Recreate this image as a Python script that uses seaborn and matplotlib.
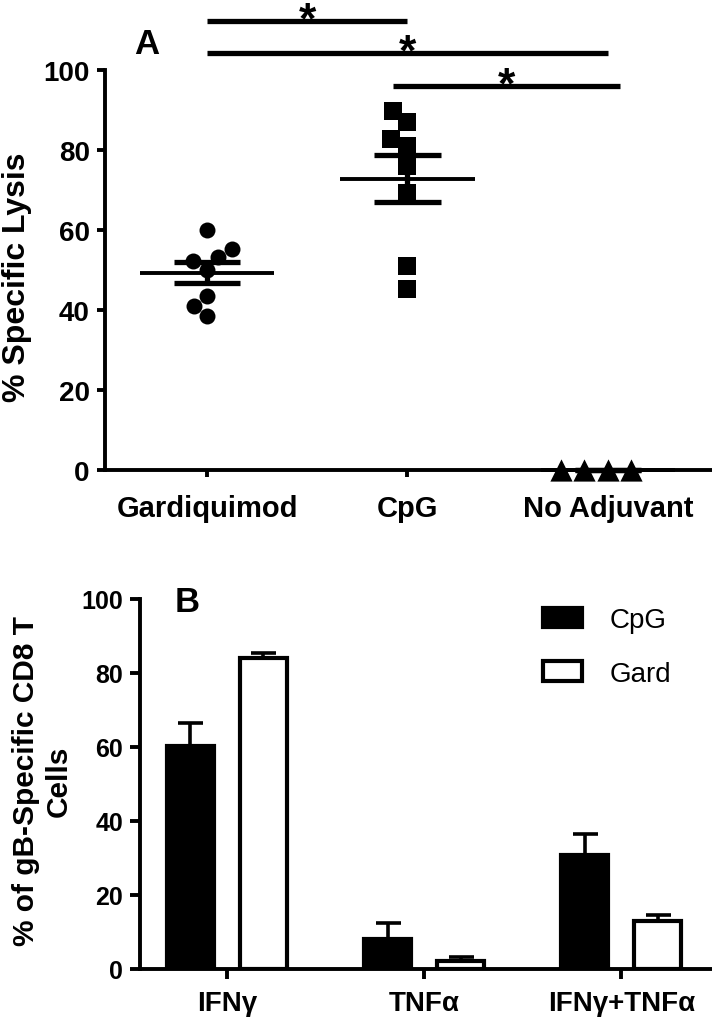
import numpy as np
import pandas as pd
import matplotlib
matplotlib.use("Agg")
import matplotlib.pyplot as plt
from matplotlib.patches import Patch
import seaborn as sns

# === Data ===
# panel A: % specific lysis, one value per mouse
groups = ["Gardiquimod", "CpG", "No Adjuvant"]
gard_lysis = [60.0, 55.3, 52.3, 53.2, 50.1, 43.6, 41.1, 38.6]
cpg_lysis = [89.8, 87.1, 82.8, 80.9, 76.1, 69.3, 51.1, 45.3]
noadj_lysis = [0.0, 0.0, 0.0, 0.0]

# significance brackets: from group, to group, height
sig_from = [0.0, 0.0, 0.93]
sig_to = [1.0, 2.0, 2.06]
sig_y = [112.3, 104.3, 96.0]
sig_label = ["*", "*", "*"]

# panel B: % of gB-specific CD8 T cells (mean, SEM)
cytokines = ["IFNγ", "TNFα", "IFNγ+TNFα"]
cpg_pct = [60.3, 8.1, 30.8]
cpg_sem = [6.2, 4.3, 5.7]
gard_pct = [84.0, 2.2, 13.0]
gard_sem = [1.4, 1.1, 1.6]

# === Style ===
sns.set_style("ticks")
plt.rcParams["font.family"] = ["Liberation Sans", "DejaVu Sans"]
plt.rcParams["axes.linewidth"] = 2.8
plt.rcParams["xtick.major.width"] = 2.8
plt.rcParams["ytick.major.width"] = 2.8
for key in ["text.color", "axes.labelcolor", "xtick.color", "ytick.color",
            "axes.edgecolor"]:
    plt.rcParams[key] = "black"

W, H = 712, 1020
fig = plt.figure(figsize=(W / 100, H / 100), dpi=100)

# === Panel A ===
ax1 = fig.add_axes([105 / W, 1 - 471 / H, 607 / W, 400 / H])
df_a = pd.DataFrame({
    "group": ["Gardiquimod"] * len(gard_lysis) + ["CpG"] * len(cpg_lysis)
             + ["No Adjuvant"] * len(noadj_lysis),
    "lysis": gard_lysis + cpg_lysis + noadj_lysis,
})
markers = {"Gardiquimod": "o", "CpG": "s", "No Adjuvant": "^"}
msize = {"Gardiquimod": 11.5, "CpG": 12.5, "No Adjuvant": 16}
for g in groups:
    sub = df_a[df_a["group"] == g]
    sns.swarmplot(data=sub, x="group", y="lysis", order=groups,
                  marker=markers[g], size=msize[g], color="black",
                  linewidth=0, ax=ax1, clip_on=False, zorder=5)

# mean +/- SEM
for i, g in enumerate(groups):
    vals = df_a.loc[df_a["group"] == g, "lysis"].to_numpy()
    m = vals.mean()
    s = vals.std(ddof=1) / np.sqrt(len(vals))
    ax1.hlines(m, i - 0.335, i + 0.335, color="black", lw=2.8, zorder=3, clip_on=False)
    ax1.hlines([m - s, m + s], i - 0.165, i + 0.165, color="black", lw=3.8,
               zorder=3, clip_on=False)
    ax1.vlines(i, m - s, m + s, color="black", lw=3.8, zorder=3, clip_on=False)

# significance bars
for x0, x1, y, lab in zip(sig_from, sig_to, sig_y, sig_label):
    ax1.plot([x0, x1], [y, y], color="black", lw=3.8, clip_on=False,
             solid_capstyle="butt")
    ax1.text((x0 + x1) / 2, y - 2.8, lab, ha="center", va="baseline",
             fontsize=32, fontweight="bold", clip_on=False)

ax1.set_xlim(-0.51, 2.52)
ax1.set_ylim(0, 100)
ax1.set_yticks([0, 20, 40, 60, 80, 100])
ax1.set_xlabel("")
ax1.set_ylabel("% Specific Lysis", fontsize=23, fontweight="bold")
ax1.yaxis.set_label_coords(-0.12, 0.485)
ax1.tick_params(axis="y", length=6, labelsize=20, pad=5)
ax1.tick_params(axis="x", length=5, labelsize=21, pad=12)
for lab in ax1.get_xticklabels() + ax1.get_yticklabels():
    lab.set_fontweight("bold")
sns.despine(ax=ax1)
ax1.text(147 / W, 1 - 45 / H, "A", transform=fig.transFigure, ha="center",
         va="center", fontsize=25, fontweight="bold")

# === Panel B ===
ax2 = fig.add_axes([140 / W, 1 - 970 / H, 572 / W, 370 / H])
df_b = pd.DataFrame({
    "cytokine": cytokines * 2,
    "group": ["CpG"] * 3 + ["Gard"] * 3,
    "pct": cpg_pct + gard_pct,
})
sns.barplot(data=df_b, x="cytokine", y="pct", hue="group",
            palette={"CpG": "black", "Gard": "white"}, edgecolor="black",
            linewidth=3, width=0.74, gap=0.36, errorbar=None, legend=False,
            ax=ax2, zorder=3)

for cont, sem in zip(ax2.containers, [cpg_sem, gard_sem]):
    xs = [b.get_x() + b.get_width() / 2 for b in cont]
    ys = [b.get_height() for b in cont]
    ax2.errorbar(xs, ys, yerr=[[0] * len(sem), sem], fmt="none", ecolor="black",
                 elinewidth=2.6, capsize=9, capthick=2.6, zorder=2)

handles = [Patch(facecolor="black", edgecolor="black", linewidth=3, label="CpG"),
           Patch(facecolor="white", edgecolor="black", linewidth=3, label="Gard")]
fig.legend(handles=handles, loc="upper left", bbox_to_anchor=(543 / W, 1 - 608 / H),
           frameon=False, fontsize=20, handlelength=1.4, handleheight=0.7,
           handletextpad=1.0, labelspacing=1.0, borderpad=0, borderaxespad=0)

ax2.set_xlim(-0.44, 2.46)
ax2.set_ylim(0, 100)
ax2.set_yticks([0, 20, 40, 60, 80, 100])
ax2.set_xlabel("")
ax2.set_ylabel("% of gB-Specific CD8 T\nCells", fontsize=21.5, fontweight="bold",
               linespacing=1.2)
ax2.yaxis.set_label_coords(-0.118, 0.51)
ax2.tick_params(axis="y", length=7, labelsize=18, pad=5)
ax2.tick_params(axis="x", length=7, labelsize=20, pad=8)
for lab in ax2.get_xticklabels() + ax2.get_yticklabels():
    lab.set_fontweight("bold")
sns.despine(ax=ax2)
ax2.text(187 / W, 1 - 603 / H, "B", transform=fig.transFigure, ha="center",
         va="center", fontsize=25, fontweight="bold")

fig.savefig("out.png", dpi=100)
